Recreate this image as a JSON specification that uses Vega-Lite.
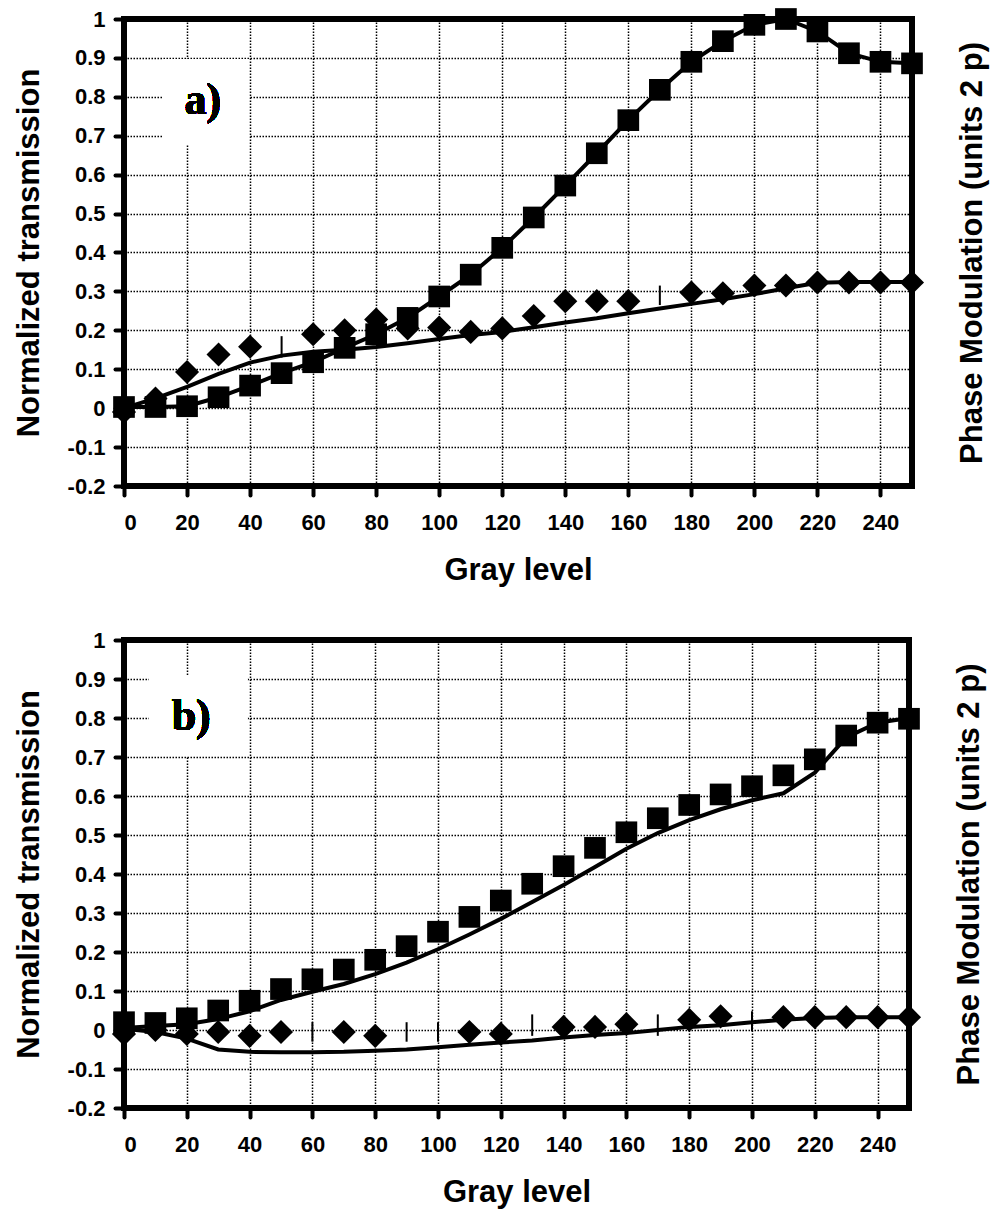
{
  "$schema": "https://vega.github.io/schema/vega-lite/v6.json",
  "background": "white",
  "padding": {"left": 10, "top": 5, "right": 0, "bottom": 0},
  "spacing": 38,
  "datasets": {
    "panel_a": [
      {"series": "amp", "gray": 0, "value": 0.003},
      {"series": "amp", "gray": 10, "value": 0.003},
      {"series": "amp", "gray": 20, "value": 0.005},
      {"series": "amp", "gray": 30, "value": 0.028},
      {"series": "amp", "gray": 40, "value": 0.058},
      {"series": "amp", "gray": 50, "value": 0.09},
      {"series": "amp", "gray": 60, "value": 0.118},
      {"series": "amp", "gray": 70, "value": 0.155},
      {"series": "amp", "gray": 80, "value": 0.19},
      {"series": "amp", "gray": 90, "value": 0.232},
      {"series": "amp", "gray": 100, "value": 0.287},
      {"series": "amp", "gray": 110, "value": 0.343},
      {"series": "amp", "gray": 120, "value": 0.412},
      {"series": "amp", "gray": 130, "value": 0.49},
      {"series": "amp", "gray": 140, "value": 0.572},
      {"series": "amp", "gray": 150, "value": 0.655},
      {"series": "amp", "gray": 160, "value": 0.74},
      {"series": "amp", "gray": 170, "value": 0.818},
      {"series": "amp", "gray": 180, "value": 0.89},
      {"series": "amp", "gray": 190, "value": 0.943},
      {"series": "amp", "gray": 200, "value": 0.985},
      {"series": "amp", "gray": 210, "value": 1.0},
      {"series": "amp", "gray": 220, "value": 0.968},
      {"series": "amp", "gray": 230, "value": 0.912},
      {"series": "amp", "gray": 240, "value": 0.89},
      {"series": "amp", "gray": 250, "value": 0.886},
      {"series": "phase", "gray": 0, "value": -0.01},
      {"series": "phase", "gray": 10, "value": 0.025},
      {"series": "phase", "gray": 20, "value": 0.093},
      {"series": "phase", "gray": 30, "value": 0.138},
      {"series": "phase", "gray": 40, "value": 0.158},
      {"series": "phase", "gray": 60, "value": 0.19},
      {"series": "phase", "gray": 70, "value": 0.2},
      {"series": "phase", "gray": 80, "value": 0.228},
      {"series": "phase", "gray": 90, "value": 0.205},
      {"series": "phase", "gray": 100, "value": 0.207},
      {"series": "phase", "gray": 110, "value": 0.196},
      {"series": "phase", "gray": 120, "value": 0.205},
      {"series": "phase", "gray": 130, "value": 0.237},
      {"series": "phase", "gray": 140, "value": 0.275},
      {"series": "phase", "gray": 150, "value": 0.275},
      {"series": "phase", "gray": 160, "value": 0.275},
      {"series": "phase", "gray": 180, "value": 0.297},
      {"series": "phase", "gray": 190, "value": 0.295},
      {"series": "phase", "gray": 200, "value": 0.315},
      {"series": "phase", "gray": 210, "value": 0.315},
      {"series": "phase", "gray": 220, "value": 0.323},
      {"series": "phase", "gray": 230, "value": 0.323},
      {"series": "phase", "gray": 240, "value": 0.323},
      {"series": "phase", "gray": 250, "value": 0.323},
      {"series": "phasefit", "gray": 0, "value": 0.0},
      {"series": "phasefit", "gray": 10, "value": 0.025},
      {"series": "phasefit", "gray": 20, "value": 0.055},
      {"series": "phasefit", "gray": 30, "value": 0.088},
      {"series": "phasefit", "gray": 40, "value": 0.117},
      {"series": "phasefit", "gray": 50, "value": 0.135},
      {"series": "phasefit", "gray": 60, "value": 0.145},
      {"series": "phasefit", "gray": 70, "value": 0.15},
      {"series": "phasefit", "gray": 80, "value": 0.157},
      {"series": "phasefit", "gray": 90, "value": 0.167},
      {"series": "phasefit", "gray": 100, "value": 0.178},
      {"series": "phasefit", "gray": 110, "value": 0.188},
      {"series": "phasefit", "gray": 120, "value": 0.196},
      {"series": "phasefit", "gray": 130, "value": 0.208},
      {"series": "phasefit", "gray": 140, "value": 0.22},
      {"series": "phasefit", "gray": 150, "value": 0.231},
      {"series": "phasefit", "gray": 160, "value": 0.244},
      {"series": "phasefit", "gray": 170, "value": 0.256},
      {"series": "phasefit", "gray": 180, "value": 0.268},
      {"series": "phasefit", "gray": 190, "value": 0.28},
      {"series": "phasefit", "gray": 200, "value": 0.293},
      {"series": "phasefit", "gray": 210, "value": 0.308},
      {"series": "phasefit", "gray": 220, "value": 0.322},
      {"series": "phasefit", "gray": 230, "value": 0.324},
      {"series": "phasefit", "gray": 240, "value": 0.324},
      {"series": "phasefit", "gray": 250, "value": 0.324},
      {"series": "err", "gray": 50, "lo": 0.13, "hi": 0.185},
      {"series": "err", "gray": 170, "lo": 0.265, "hi": 0.315}
    ],
    "panel_b": [
      {"series": "amp", "gray": 0, "value": 0.02},
      {"series": "amp", "gray": 10, "value": 0.018},
      {"series": "amp", "gray": 20, "value": 0.03},
      {"series": "amp", "gray": 30, "value": 0.05},
      {"series": "amp", "gray": 40, "value": 0.075},
      {"series": "amp", "gray": 50, "value": 0.105},
      {"series": "amp", "gray": 60, "value": 0.13},
      {"series": "amp", "gray": 70, "value": 0.155},
      {"series": "amp", "gray": 80, "value": 0.18},
      {"series": "amp", "gray": 90, "value": 0.215},
      {"series": "amp", "gray": 100, "value": 0.252},
      {"series": "amp", "gray": 110, "value": 0.29},
      {"series": "amp", "gray": 120, "value": 0.332},
      {"series": "amp", "gray": 130, "value": 0.375},
      {"series": "amp", "gray": 140, "value": 0.42},
      {"series": "amp", "gray": 150, "value": 0.467},
      {"series": "amp", "gray": 160, "value": 0.507},
      {"series": "amp", "gray": 170, "value": 0.543},
      {"series": "amp", "gray": 180, "value": 0.577},
      {"series": "amp", "gray": 190, "value": 0.604},
      {"series": "amp", "gray": 200, "value": 0.625},
      {"series": "amp", "gray": 210, "value": 0.653},
      {"series": "amp", "gray": 220, "value": 0.694},
      {"series": "amp", "gray": 230, "value": 0.755},
      {"series": "amp", "gray": 240, "value": 0.788},
      {"series": "amp", "gray": 250, "value": 0.798},
      {"series": "ampfit", "gray": 0, "value": 0.005},
      {"series": "ampfit", "gray": 10, "value": 0.01},
      {"series": "ampfit", "gray": 20, "value": 0.015},
      {"series": "ampfit", "gray": 30, "value": 0.028},
      {"series": "ampfit", "gray": 40, "value": 0.048},
      {"series": "ampfit", "gray": 50, "value": 0.077},
      {"series": "ampfit", "gray": 60, "value": 0.098},
      {"series": "ampfit", "gray": 70, "value": 0.118},
      {"series": "ampfit", "gray": 80, "value": 0.143},
      {"series": "ampfit", "gray": 90, "value": 0.173},
      {"series": "ampfit", "gray": 100, "value": 0.207},
      {"series": "ampfit", "gray": 110, "value": 0.245},
      {"series": "ampfit", "gray": 120, "value": 0.285},
      {"series": "ampfit", "gray": 130, "value": 0.328},
      {"series": "ampfit", "gray": 140, "value": 0.372},
      {"series": "ampfit", "gray": 150, "value": 0.418},
      {"series": "ampfit", "gray": 160, "value": 0.465},
      {"series": "ampfit", "gray": 170, "value": 0.505},
      {"series": "ampfit", "gray": 180, "value": 0.538},
      {"series": "ampfit", "gray": 190, "value": 0.566},
      {"series": "ampfit", "gray": 200, "value": 0.589},
      {"series": "ampfit", "gray": 210, "value": 0.607},
      {"series": "ampfit", "gray": 220, "value": 0.66},
      {"series": "ampfit", "gray": 230, "value": 0.75},
      {"series": "ampfit", "gray": 240, "value": 0.788},
      {"series": "ampfit", "gray": 250, "value": 0.8},
      {"series": "phase", "gray": 0, "value": -0.01},
      {"series": "phase", "gray": 10, "value": 0.0},
      {"series": "phase", "gray": 20, "value": -0.01},
      {"series": "phase", "gray": 30, "value": -0.005},
      {"series": "phase", "gray": 40, "value": -0.015},
      {"series": "phase", "gray": 50, "value": -0.005},
      {"series": "phase", "gray": 70, "value": -0.005},
      {"series": "phase", "gray": 80, "value": -0.015},
      {"series": "phase", "gray": 110, "value": -0.005},
      {"series": "phase", "gray": 120, "value": -0.01},
      {"series": "phase", "gray": 140, "value": 0.008},
      {"series": "phase", "gray": 150, "value": 0.008},
      {"series": "phase", "gray": 160, "value": 0.015},
      {"series": "phase", "gray": 180, "value": 0.026},
      {"series": "phase", "gray": 190, "value": 0.035},
      {"series": "phase", "gray": 210, "value": 0.033},
      {"series": "phase", "gray": 220, "value": 0.033},
      {"series": "phase", "gray": 230, "value": 0.033},
      {"series": "phase", "gray": 240, "value": 0.033},
      {"series": "phase", "gray": 250, "value": 0.033},
      {"series": "phasefit", "gray": 0, "value": 0.003},
      {"series": "phasefit", "gray": 10, "value": -0.005},
      {"series": "phasefit", "gray": 20, "value": -0.022},
      {"series": "phasefit", "gray": 30, "value": -0.05},
      {"series": "phasefit", "gray": 40, "value": -0.056},
      {"series": "phasefit", "gray": 50, "value": -0.057},
      {"series": "phasefit", "gray": 60, "value": -0.057},
      {"series": "phasefit", "gray": 70, "value": -0.056},
      {"series": "phasefit", "gray": 80, "value": -0.053},
      {"series": "phasefit", "gray": 90, "value": -0.05},
      {"series": "phasefit", "gray": 100, "value": -0.044},
      {"series": "phasefit", "gray": 110, "value": -0.038},
      {"series": "phasefit", "gray": 120, "value": -0.032},
      {"series": "phasefit", "gray": 130, "value": -0.027},
      {"series": "phasefit", "gray": 140, "value": -0.019},
      {"series": "phasefit", "gray": 150, "value": -0.013},
      {"series": "phasefit", "gray": 160, "value": -0.008},
      {"series": "phasefit", "gray": 170, "value": 0.0},
      {"series": "phasefit", "gray": 180, "value": 0.008},
      {"series": "phasefit", "gray": 190, "value": 0.012},
      {"series": "phasefit", "gray": 200, "value": 0.02},
      {"series": "phasefit", "gray": 210, "value": 0.026},
      {"series": "phasefit", "gray": 220, "value": 0.031},
      {"series": "phasefit", "gray": 230, "value": 0.033},
      {"series": "phasefit", "gray": 240, "value": 0.033},
      {"series": "phasefit", "gray": 250, "value": 0.033},
      {"series": "err", "gray": 60, "lo": -0.03, "hi": 0.02},
      {"series": "err", "gray": 90, "lo": -0.03, "hi": 0.02},
      {"series": "err", "gray": 100, "lo": -0.03, "hi": 0.02},
      {"series": "err", "gray": 130, "lo": -0.015, "hi": 0.04},
      {"series": "err", "gray": 170, "lo": -0.015, "hi": 0.04},
      {"series": "err", "gray": 200, "lo": -0.003, "hi": 0.048}
    ]
  },
  "vconcat": [
    {
      "width": 788,
      "height": 467,
      "data": {"name": "panel_a"},
      "resolve": {"axis": {"y": "independent"}},
      "layer": [
        {
          "mark": {"type": "rect", "color": "white"},
          "encoding": {
            "x": {"datum": 12.5, "type": "quantitative", "scale": {"domain": [0, 250], "nice": false, "zero": false},
              "axis": {"title": "Gray level", "values": [0, 20, 40, 60, 80, 100, 120, 140, 160, 180, 200, 220, 240], "grid": true}},
            "x2": {"datum": 39.5},
            "y": {"datum": 0.68, "type": "quantitative", "scale": {"domain": [-0.2, 1], "nice": false, "zero": false},
              "axis": {"title": "Normalized transmission", "grid": true, "values": [-0.2, -0.1, 0, 0.1, 0.2, 0.3, 0.4, 0.5, 0.6, 0.7, 0.8, 0.9, 1],
                "labelExpr": "datum.value < 0 ? '-' + format(-datum.value, '~g') : format(datum.value, '~g')"}},
            "y2": {"datum": 0.895}
          }
        },
        {
          "mark": {"type": "text", "text": "a)", "font": "Liberation Serif", "fontWeight": "bold", "fontSize": 44, "align": "center", "baseline": "alphabetic", "fill": "black", "stroke": null},
          "encoding": {
            "x": {"datum": 25, "type": "quantitative"},
            "y": {"datum": 0.755, "type": "quantitative", "axis": null}
          }
        },
        {
          "transform": [{"filter": "datum.series == 'amp' || datum.series == 'phasefit'"}],
          "mark": {"type": "line", "color": "black", "strokeWidth": 4},
          "encoding": {
            "x": {"field": "gray", "type": "quantitative"},
            "y": {"field": "value", "type": "quantitative",
              "axis": {"orient": "right", "title": "Phase Modulation (units 2 p)", "labels": false, "ticks": false, "grid": false, "domain": false, "titleAngle": 270, "titlePadding": 76}},
            "detail": {"field": "series"}
          }
        },
        {
          "transform": [{"filter": "datum.series == 'err'"}],
          "mark": {"type": "rule", "color": "black", "strokeWidth": 2},
          "encoding": {
            "x": {"field": "gray", "type": "quantitative"},
            "y": {"field": "lo", "type": "quantitative", "axis": null},
            "y2": {"field": "hi"}
          }
        },
        {
          "transform": [{"filter": "datum.series == 'amp' || datum.series == 'phase'"}],
          "mark": {"type": "point", "filled": true, "opacity": 1, "color": "black"},
          "encoding": {
            "x": {"field": "gray", "type": "quantitative"},
            "y": {"field": "value", "type": "quantitative", "axis": null},
            "shape": {"field": "series", "type": "nominal", "scale": {"domain": ["amp", "phase"], "range": ["square", "diamond"]}, "legend": null},
            "size": {"field": "series", "type": "nominal", "scale": {"domain": ["amp", "phase"], "range": [470, 580]}, "legend": null}
          }
        }
      ]
    },
    {
      "width": 785,
      "height": 468,
      "data": {"name": "panel_b"},
      "resolve": {"axis": {"y": "independent"}},
      "layer": [
        {
          "mark": {"type": "rect", "color": "white"},
          "encoding": {
            "x": {"datum": 8, "type": "quantitative", "scale": {"domain": [0, 250], "nice": false, "zero": false},
              "axis": {"title": "Gray level", "values": [0, 20, 40, 60, 80, 100, 120, 140, 160, 180, 200, 220, 240], "grid": true}},
            "x2": {"datum": 39.2},
            "y": {"datum": 0.704, "type": "quantitative", "scale": {"domain": [-0.2, 1], "nice": false, "zero": false},
              "axis": {"title": "Normalized transmission", "grid": true, "values": [-0.2, -0.1, 0, 0.1, 0.2, 0.3, 0.4, 0.5, 0.6, 0.7, 0.8, 0.9, 1],
                "labelExpr": "datum.value < 0 ? '-' + format(-datum.value, '~g') : format(datum.value, '~g')"}},
            "y2": {"datum": 0.908}
          }
        },
        {
          "mark": {"type": "text", "text": "b)", "font": "Liberation Serif", "fontWeight": "bold", "fontSize": 44, "align": "center", "baseline": "alphabetic", "fill": "black", "stroke": null},
          "encoding": {
            "x": {"datum": 21.4, "type": "quantitative"},
            "y": {"datum": 0.768, "type": "quantitative", "axis": null}
          }
        },
        {
          "transform": [{"filter": "datum.series == 'ampfit' || datum.series == 'phasefit'"}],
          "mark": {"type": "line", "color": "black", "strokeWidth": 4},
          "encoding": {
            "x": {"field": "gray", "type": "quantitative"},
            "y": {"field": "value", "type": "quantitative",
              "axis": {"orient": "right", "title": "Phase Modulation (units 2 p)", "labels": false, "ticks": false, "grid": false, "domain": false, "titleAngle": 270, "titlePadding": 76}},
            "detail": {"field": "series"}
          }
        },
        {
          "transform": [{"filter": "datum.series == 'err'"}],
          "mark": {"type": "rule", "color": "black", "strokeWidth": 2},
          "encoding": {
            "x": {"field": "gray", "type": "quantitative"},
            "y": {"field": "lo", "type": "quantitative", "axis": null},
            "y2": {"field": "hi"}
          }
        },
        {
          "transform": [{"filter": "datum.series == 'amp' || datum.series == 'phase'"}],
          "mark": {"type": "point", "filled": true, "opacity": 1, "color": "black"},
          "encoding": {
            "x": {"field": "gray", "type": "quantitative"},
            "y": {"field": "value", "type": "quantitative", "axis": null},
            "shape": {"field": "series", "type": "nominal", "scale": {"domain": ["amp", "phase"], "range": ["square", "diamond"]}, "legend": null},
            "size": {"field": "series", "type": "nominal", "scale": {"domain": ["amp", "phase"], "range": [470, 580]}, "legend": null}
          }
        }
      ]
    }
  ],
  "config": {
    "view": {"stroke": "black", "strokeWidth": 6},
    "axis": {
      "domain": false,
      "grid": true,
      "gridColor": "black",
      "gridDash": [1.5, 1.5],
      "gridWidth": 1.5,
      "gridOpacity": 1,
      "ticks": true,
      "tickColor": "black",
      "tickWidth": 4,
      "tickSize": 9,
      "tickCap": "round",
      "labelFont": "Liberation Sans",
      "labelFontWeight": "bold",
      "labelFontSize": 22,
      "labelColor": "black",
      "labelPadding": 10,
      "titleFont": "Liberation Sans",
      "titleFontWeight": "bold",
      "titleFontSize": 31,
      "titleColor": "black"
    },
    "axisX": {"labelPadding": 17, "titlePadding": 22},
    "axisY": {"titlePadding": 22}
  }
}
